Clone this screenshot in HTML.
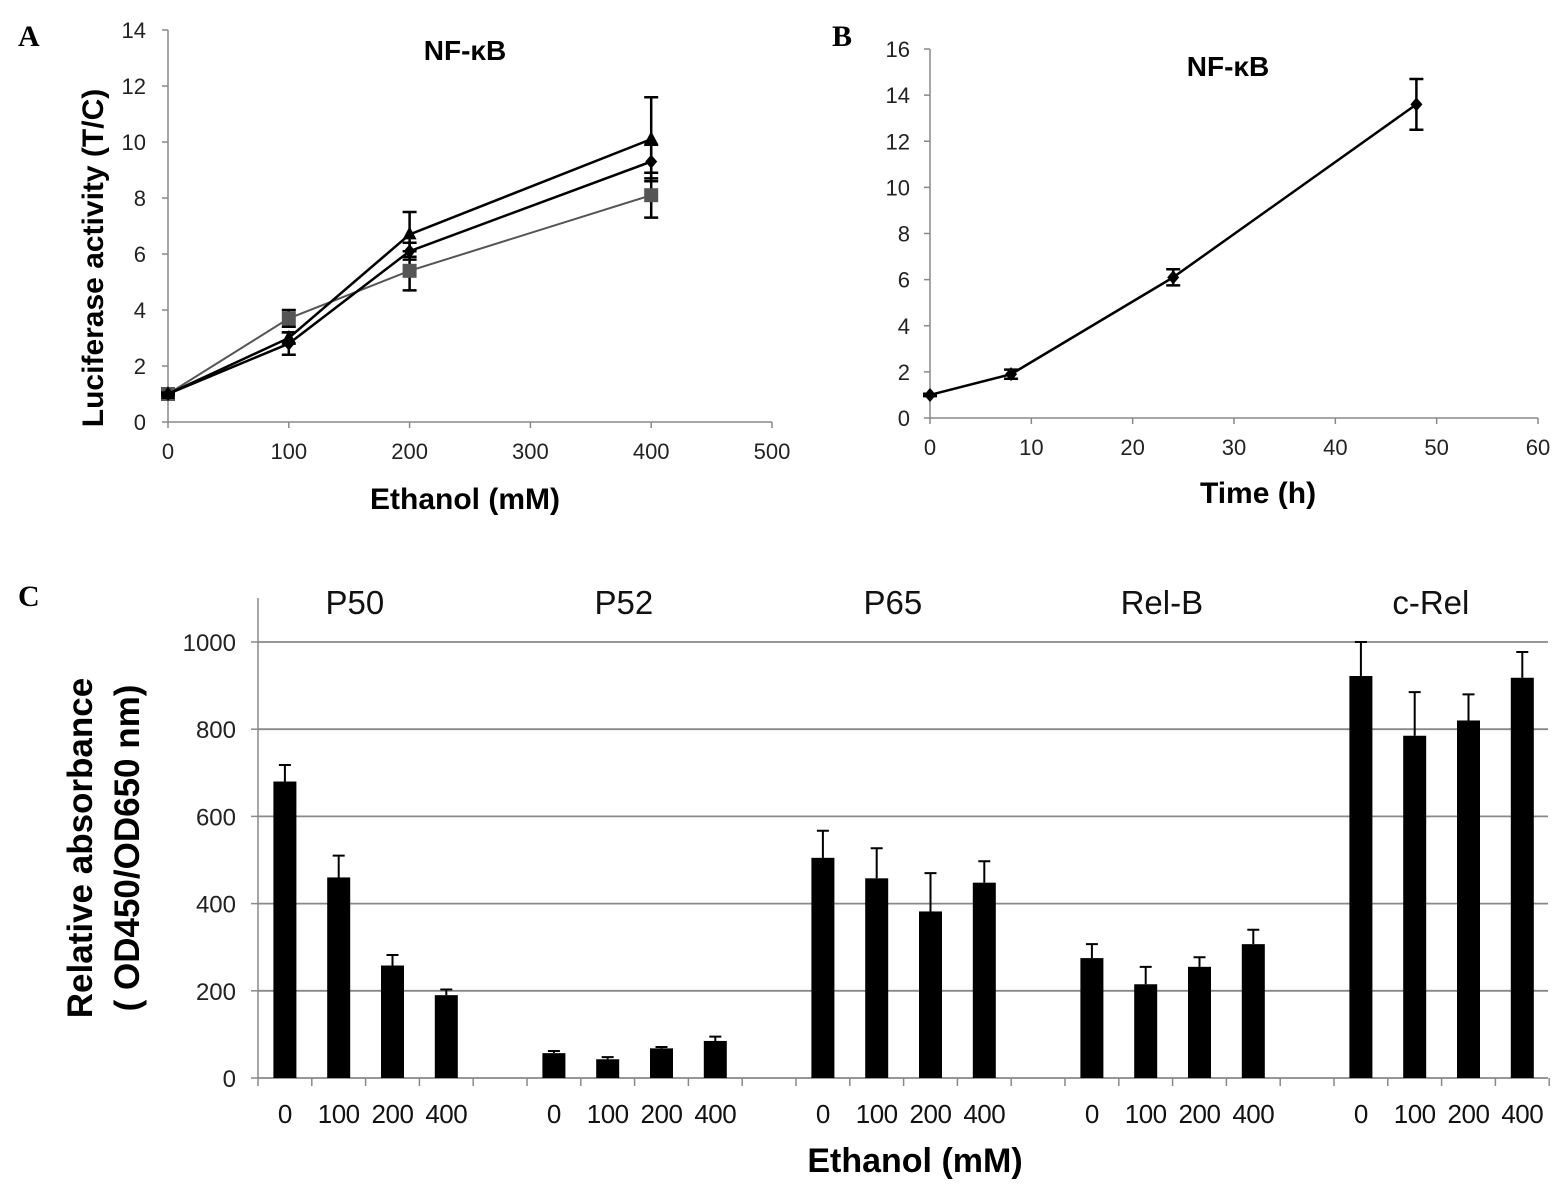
<!DOCTYPE html>
<html><head><meta charset="utf-8"><style>
body{margin:0;background:#fff;}
svg{display:block;font-family:"Liberation Sans",Arial,sans-serif;}
</style></head><body>
<svg id="fig" width="1567" height="1194" viewBox="0 0 1567 1194" xmlns="http://www.w3.org/2000/svg">
<text x="18" y="46" font-family="Liberation Serif,serif" font-weight="bold" font-size="30">A</text>
<text x="832" y="46" font-family="Liberation Serif,serif" font-weight="bold" font-size="30">B</text>
<text x="18" y="606" font-family="Liberation Serif,serif" font-weight="bold" font-size="30">C</text>
<g id="pa"></g>
<g id="pb"></g>
<g id="pc"></g>
</svg>
<script>
// Panel A data
const aX = [0, 100, 200, 400];
const aTri = [1, 3.0, 6.7, 10.1];
const aTriErr = [0.05, 0.2, 0.8, 1.5];
const aDia = [1, 2.8, 6.1, 9.3];
const aDiaErr = [0.05, 0.4, 0.3, 0.6];
const aSq = [1, 3.7, 5.4, 8.1];
const aSqErr = [0.05, 0.3, 0.7, 0.8];
const aXTicks = [0, 100, 200, 300, 400, 500];
const aYTicks = [0, 2, 4, 6, 8, 10, 12, 14];
// Panel B data
const bX = [0, 8, 24, 48];
const bY = [1, 1.9, 6.1, 13.6];
const bErr = [0.05, 0.2, 0.35, 1.1];
const bXTicks = [0, 10, 20, 30, 40, 50, 60];
const bYTicks = [0, 2, 4, 6, 8, 10, 12, 14, 16];
// Panel C data
const cGroups = ["P50", "P52", "P65", "Rel-B", "c-Rel"];
const cDoses = ["0", "100", "200", "400"];
const cValues = [[680, 460, 258, 190], [57, 43, 68, 85], [505, 458, 382, 448], [275, 215, 255, 307], [922, 785, 820, 918]];
const cErrTop = [[718, 510, 282, 203], [62, 48, 71, 95], [567, 527, 470, 497], [307, 255, 277, 340], [1000, 885, 880, 977]];
const cYTicks = [0, 200, 400, 600, 800, 1000];

const NS = "http://www.w3.org/2000/svg";
function mk(parent, tag, attrs, text) {
  const e = document.createElementNS(NS, tag);
  for (const k in attrs) e.setAttribute(k, attrs[k]);
  if (text !== undefined) e.textContent = text;
  parent.appendChild(e);
  return e;
}

// ---- Panel A ----
(function () {
  const g = document.getElementById('pa');
  const X = v => 168 + (v / 500) * 604;
  const Y = v => 422 - (v / 14) * 392;
  let e = mk(g, 'line', {x1: 168, y1: Y(0), x2: 168, y2: Y(14), stroke: '#888', 'stroke-width': 1.5});
   
  e = mk(g, 'line', {x1: 168, y1: Y(0), x2: X(500), y2: Y(0), stroke: '#888', 'stroke-width': 1.5});
   
  aYTicks.forEach(t => {
    mk(g, 'line', {x1: 162, y1: Y(t), x2: 168, y2: Y(t), stroke: '#888', 'stroke-width': 1.5});
    const l = mk(g, 'text', {x: 146, y: Y(t) + 8, 'text-anchor': 'end', 'font-size': 22, fill: '#222'}, t);
     
  });
  aXTicks.forEach(t => {
    mk(g, 'line', {x1: X(t), y1: Y(0), x2: X(t), y2: Y(0) + 6, stroke: '#888', 'stroke-width': 1.5});
    const l = mk(g, 'text', {x: X(t), y: 459, 'text-anchor': 'middle', 'font-size': 22, fill: '#222'}, t);
     
  });
  function series(vals, errs, color, width, shape, name) {
    const pts = aX.map((x, i) => X(x) + ',' + Y(vals[i])).join(' ');
    let p = mk(g, 'polyline', {points: pts, fill: 'none', stroke: color, 'stroke-width': width});
     
    aX.forEach((x, i) => {
      const cx = X(x), cy = Y(vals[i]);
      const y1 = Y(vals[i] + errs[i]), y2 = Y(vals[i] - errs[i]);
      mk(g, 'path', {d: `M${cx},${y1}V${y2}M${cx - 7},${y1}H${cx + 7}M${cx - 7},${y2}H${cx + 7}`, stroke: '#000', 'stroke-width': 2.5, fill: 'none'});
      let m;
      if (shape === 'tri') m = mk(g, 'path', {d: `M${cx},${cy - 8}L${cx + 7},${cy + 5}L${cx - 7},${cy + 5}Z`, fill: color});
      else if (shape === 'dia') m = mk(g, 'path', {d: `M${cx},${cy - 7}L${cx + 6},${cy}L${cx},${cy + 7}L${cx - 6},${cy}Z`, fill: color});
      else m = mk(g, 'rect', {x: cx - 7, y: cy - 7, width: 14, height: 14, fill: color});
       
    });
  }
  series(aSq, aSqErr, '#555', 2, 'sq', 'a-square-series');
  series(aDia, aDiaErr, '#000', 2.5, 'dia', 'a-diamond-series');
  series(aTri, aTriErr, '#000', 2.5, 'tri', 'a-triangle-series');
  let t = mk(g, 'text', {x: 465, y: 60, 'text-anchor': 'middle', 'font-size': 28, 'font-weight': 'bold'}, 'NF-κB');
   
  t = mk(g, 'text', {x: 465, y: 509, 'text-anchor': 'middle', 'font-size': 30, 'font-weight': 'bold'}, 'Ethanol (mM)');
   
  t = mk(g, 'text', {x: 0, y: 0, 'text-anchor': 'middle', 'font-size': 30, 'font-weight': 'bold', transform: 'translate(103,258) rotate(-90)'}, 'Luciferase activity (T/C)');
   
})();

// ---- Panel B ----
(function () {
  const g = document.getElementById('pb');
  const X = v => 930 + (v / 60) * 608;
  const Y = v => 418 - (v / 16) * 369;
  let e = mk(g, 'line', {x1: 930, y1: Y(0), x2: 930, y2: Y(16), stroke: '#888', 'stroke-width': 1.5});
   
  e = mk(g, 'line', {x1: 930, y1: Y(0), x2: X(60), y2: Y(0), stroke: '#888', 'stroke-width': 1.5});
   
  bYTicks.forEach(t => {
    mk(g, 'line', {x1: 924, y1: Y(t), x2: 930, y2: Y(t), stroke: '#888', 'stroke-width': 1.5});
    const l = mk(g, 'text', {x: 910, y: Y(t) + 8, 'text-anchor': 'end', 'font-size': 22, fill: '#222'}, t);
     
  });
  bXTicks.forEach(t => {
    mk(g, 'line', {x1: X(t), y1: Y(0), x2: X(t), y2: Y(0) + 6, stroke: '#888', 'stroke-width': 1.5});
    const l = mk(g, 'text', {x: X(t), y: 455, 'text-anchor': 'middle', 'font-size': 22, fill: '#222'}, t);
     
  });
  const pts = bX.map((x, i) => X(x) + ',' + Y(bY[i])).join(' ');
  let p = mk(g, 'polyline', {points: pts, fill: 'none', stroke: '#000', 'stroke-width': 2.5});
   
  bX.forEach((x, i) => {
    const cx = X(x), cy = Y(bY[i]);
    const y1 = Y(bY[i] + bErr[i]), y2 = Y(bY[i] - bErr[i]);
    mk(g, 'path', {d: `M${cx},${y1}V${y2}M${cx - 7},${y1}H${cx + 7}M${cx - 7},${y2}H${cx + 7}`, stroke: '#000', 'stroke-width': 2.5, fill: 'none'});
    const m = mk(g, 'path', {d: `M${cx},${cy - 7}L${cx + 6},${cy}L${cx},${cy + 7}L${cx - 6},${cy}Z`, fill: '#000'});
     
  });
  let t = mk(g, 'text', {x: 1228, y: 76, 'text-anchor': 'middle', 'font-size': 28, 'font-weight': 'bold'}, 'NF-κB');
   
  t = mk(g, 'text', {x: 1258, y: 503, 'text-anchor': 'middle', 'font-size': 30, 'font-weight': 'bold'}, 'Time (h)');
   
})();

// ---- Panel C ----
(function () {
  const g = document.getElementById('pc');
  const x0 = 258, slot = 53.8;
  const Y = v => 1078 - (v / 1000) * 436;
  cYTicks.forEach(t => {
    if (t > 0) {
      const gl = mk(g, 'line', {x1: x0, y1: Y(t), x2: 1548, y2: Y(t), stroke: '#888', 'stroke-width': 1.8});
       
    }
    mk(g, 'line', {x1: x0 - 7, y1: Y(t), x2: x0, y2: Y(t), stroke: '#888', 'stroke-width': 1.5});
    const l = mk(g, 'text', {x: 236, y: Y(t) + 9, 'text-anchor': 'end', 'font-size': 24, fill: '#222'}, t);
     
  });
  let e = mk(g, 'line', {x1: x0, y1: Y(0), x2: x0, y2: 598, stroke: '#888', 'stroke-width': 1.5});
   
  e = mk(g, 'line', {x1: x0, y1: Y(0), x2: 1548, y2: Y(0), stroke: '#888', 'stroke-width': 1.8});
   
  for (let i = 0; i <= 24; i++) mk(g, 'line', {x1: x0 + i * slot, y1: Y(0), x2: x0 + i * slot, y2: Y(0) + 8, stroke: '#888', 'stroke-width': 1.5});
  cGroups.forEach((name, gi) => {
    const gc = x0 + (gi * 5 + 1.8) * slot;
    const gt = mk(g, 'text', {x: gc, y: 614, 'text-anchor': 'middle', 'font-size': 33, fill: '#111'}, name);
     
    cDoses.forEach((d, di) => {
      const cx = x0 + (gi * 5 + di + 0.5) * slot;
      const v = cValues[gi][di], et = cErrTop[gi][di];
      mk(g, 'path', {d: `M${cx},${Y(v)}V${Y(et)}M${cx - 6},${Y(et)}H${cx + 6}`, stroke: '#000', 'stroke-width': 2, fill: 'none'});
      const b = mk(g, 'rect', {x: cx - 11.5, y: Y(v), width: 23, height: Y(0) - Y(v), fill: '#000'});
       
      const l = mk(g, 'text', {x: cx, y: 1123, 'text-anchor': 'middle', 'font-size': 26, fill: '#111', 'letter-spacing': '-0.5'}, d);
       
    });
  });
  let t = mk(g, 'text', {x: 915, y: 1172, 'text-anchor': 'middle', 'font-size': 34, 'font-weight': 'bold'}, 'Ethanol (mM)');
   
  t = mk(g, 'text', {x: 0, y: 0, 'text-anchor': 'middle', 'font-size': 35, 'font-weight': 'bold', transform: 'translate(92,848) rotate(-90)'}, 'Relative  absorbance');
   
  t = mk(g, 'text', {x: 0, y: 0, 'text-anchor': 'middle', 'font-size': 35, 'font-weight': 'bold', transform: 'translate(139,848) rotate(-90)'}, '( OD450/OD650 nm)');
   
})();
</script>
</body></html>
